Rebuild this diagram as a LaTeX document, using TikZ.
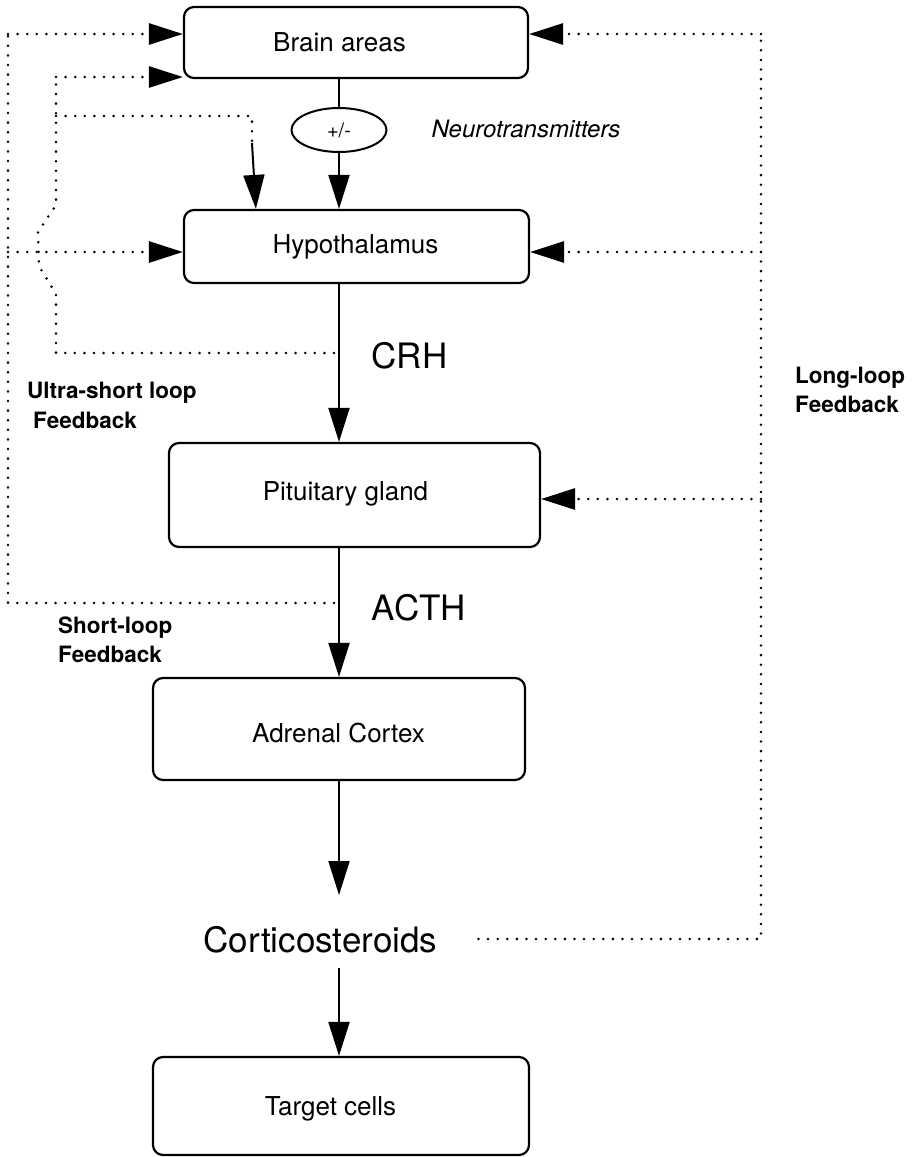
\documentclass[tikz,border=0pt]{standalone}
\usepackage{fontspec}
\setmainfont{TeX Gyre Heros}
\usetikzlibrary{arrows.meta,shapes.geometric,calc}

\tikzset{
  x=1pt, y=-1pt,
  box/.style={draw, rounded corners=10pt, line width=2.2pt, inner sep=0pt},
  boxtext/.style={inner sep=0pt, anchor=base, font=\fontsize{26}{30}\selectfont},
  bigtext/.style={inner sep=0pt, anchor=base, font=\fontsize{35}{40}\selectfont},
  looptext/.style={inner sep=0pt, anchor=base west, font=\fontsize{22.5}{26}\selectfont\bfseries},
  dots/.style={line width=2.8pt, dash pattern=on 0pt off 9.6pt, line cap=round},
  tip/.style={-{Triangle[length=34pt,width=21pt]}},
  dotarrow/.style={dots, tip},
  link/.style={line width=2pt},
  flow/.style={link, tip},
}

\begin{document}
\begin{tikzpicture}
\useasboundingbox (0,0) rectangle (917,1157);

% boxes
\node[box, minimum width=344pt, minimum height=71pt] (brain) at (356,42.5) {};
\node[box, minimum width=345pt, minimum height=73pt] (hypo) at (356.5,246.5) {};
\node[box, minimum width=371pt, minimum height=104pt] (pit) at (354.5,495) {};
\node[box, minimum width=372pt, minimum height=102pt] (adr) at (339,729) {};
\node[box, minimum width=376pt, minimum height=98pt] (tgt) at (341,1106) {};

% box texts
\node[boxtext] (brainT) at (339.5,51) {Brain areas};
\node[boxtext] (hypoT) at (355.5,253) {Hypothalamus};
\node[boxtext] (pitT) at (345.5,500) {Pituitary gland};
\node[boxtext] (adrT) at (338.5,742) {Adrenal Cortex};
\node[boxtext] (tgtT) at (330.5,1115) {Target cells};

% modulator
\node[draw, ellipse, line width=2pt, minimum width=95pt, minimum height=44pt, inner sep=0pt,
      font=\fontsize{20}{24}\selectfont] (ell) at (339,130) {+/-};
\node[inner sep=0pt, anchor=base, font=\fontsize{24}{28}\selectfont\itshape] (neuro) at (526,137) {Neurotransmitters};

% hormones
\node[bigtext] (crh) at (409.5,368) {CRH};
\node[bigtext] (acth) at (419,620) {ACTH};
\node[bigtext] (cort) at (320.5,952) {Corticosteroids};

% loop labels
\node[looptext] (us1) at (27,398) {Ultra-short loop};
\node[looptext] (us2) at (33,428) {Feedback};
\node[looptext] (sl1) at (58,633) {Short-loop};
\node[looptext] (sl2) at (58,662) {Feedback};
\node[looptext] (ll1) at (795,383) {Long-loop};
\node[looptext] (ll2) at (795,412) {Feedback};

% main axis
\coordinate (ax) at (339,0);
\coordinate (c1) at (339,895);
\coordinate (c2) at (339,968);
\draw[link] (brain.south -| ax) -- (ell.north);
\draw[flow] (ell.south) -- (hypo.north -| ax);
\draw[flow] (hypo.south -| ax) -- (pit.north -| ax);
\draw[flow] (pit.south -| ax) -- (adr.north -| ax);
\draw[flow] (adr.south -| ax) -- (c1);
\draw[flow] (c2) -- (tgt.north -| ax);

% long-loop feedback
\coordinate (R0) at ($(cort.base east)+(41,-13)$);
\coordinate (R1) at (761,34);
\coordinate (R2) at (761,252);
\coordinate (R3) at (761,499);
\draw[dots] (R0) -| (R1);
\draw[dotarrow] (R1) -- (R1 -| brain.east);
\draw[dotarrow] (R2) -- (R2 -| hypo.east);
\draw[dotarrow] (R3) -- (R3 -| pit.east);

% short-loop feedback
\coordinate (S0) at (334,603);
\coordinate (L1) at (8,34);
\coordinate (L2) at (8,252);
\draw[dots] (S0) -- (8,603) -- (L1);
\draw[dotarrow] (L1) -- (L1 -| brain.west);
\draw[dotarrow] (L2) -- (L2 -| hypo.west);

% ultra-short loop feedback
\coordinate (U0) at (334,353);
\coordinate (U2) at (56,77);
\coordinate (U3) at (56,116);
\coordinate (U4) at (252,116);
\coordinate (U5) at (252,143);
\draw[dots] (U0) -- (56,353) -- (56,294) -- (39,266) -- (38,232) -- (56,205) -- (U2);
\draw[dotarrow] (U2) -- (U2 -| brain.west);
\draw[dots] (U3) -- (U4) -- (U5);
\draw[flow] (U5) -- ($(hypo.north west)+(73,0)$);
\end{tikzpicture}
\end{document}
